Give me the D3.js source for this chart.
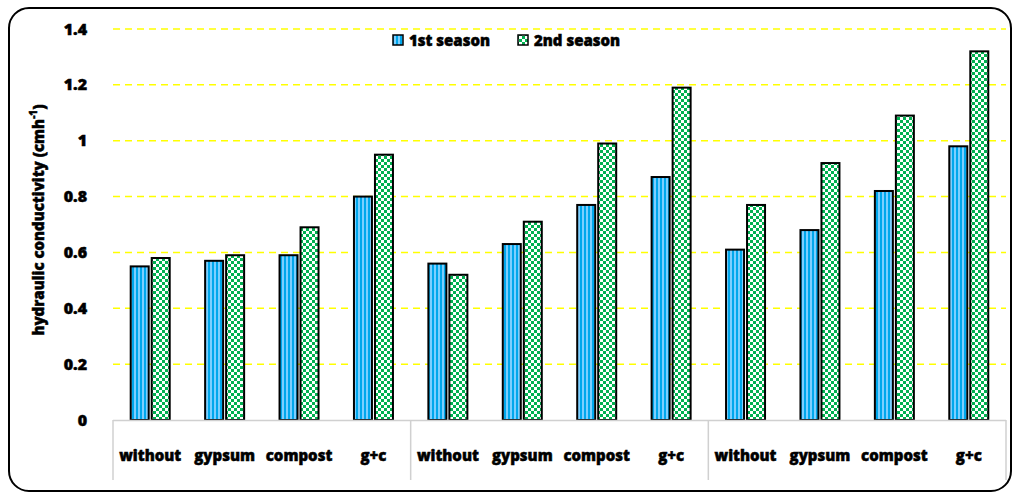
<!DOCTYPE html>
<html>
<head>
<meta charset="utf-8">
<script src="https://cdn.jsdelivr.net/npm/d3@7"></script>
<style>
  html, body { margin: 0; padding: 0; background: #fff; }
  svg { display: block; }
  text { font-family: "Open Sans", "Liberation Sans", Arial, sans-serif; font-weight: 800; fill: #000; stroke: #000; stroke-width: 0.5px; }
</style>
</head>
<body>
<svg id="chart" width="1018" height="498"></svg>
<script>
// Treatments repeated across three experiment groups
const categories = ["without", "gypsum", "compost", "g+c",
                    "without", "gypsum", "compost", "g+c",
                    "without", "gypsum", "compost", "g+c"];
const season1 = [0.55, 0.57, 0.59, 0.80, 0.56, 0.63, 0.77, 0.87, 0.61, 0.68, 0.82, 0.98];
const season2 = [0.58, 0.59, 0.69, 0.95, 0.52, 0.71, 0.99, 1.19, 0.77, 0.92, 1.09, 1.32];
const seriesNames = ["1st season", "2nd season"];
const yTicks = [0, 0.2, 0.4, 0.6, 0.8, 1, 1.2, 1.4];
const groupSize = 4;

const svg = d3.select("#chart");
const margin = { left: 113, top: 29 };
const plotRight = 1006, plotBottom = 420;

// Patterns for the two series
const defs = svg.append("defs");
const pBlue = defs.append("pattern").attr("id", "stripes")
  .attr("patternUnits", "userSpaceOnUse").attr("width", 4).attr("height", 4);
pBlue.append("rect").attr("width", 4).attr("height", 4).attr("fill", "#7ccfff");
pBlue.append("rect").attr("width", 2).attr("height", 4).attr("fill", "#00a7ec");

const pGreen = defs.append("pattern").attr("id", "checks")
  .attr("patternUnits", "userSpaceOnUse").attr("width", 6).attr("height", 6);
pGreen.append("rect").attr("width", 6).attr("height", 6).attr("fill", "#ffffff");
pGreen.append("rect").attr("width", 3).attr("height", 3).attr("fill", "#00b050");
pGreen.append("rect").attr("x", 3).attr("y", 3).attr("width", 3).attr("height", 3).attr("fill", "#00b050");

// Rounded outer frame
svg.append("rect").attr("x", 9).attr("y", 8).attr("width", 1002).attr("height", 483)
  .attr("rx", 20).attr("ry", 20).attr("fill", "#fff").attr("stroke", "#000").attr("stroke-width", 2);

const x = d3.scaleBand().domain(d3.range(categories.length))
  .range([margin.left, plotRight]).paddingInner(0).paddingOuter(0);
const y = d3.scaleLinear().domain([0, 1.4]).range([plotBottom, margin.top]);

// Dashed yellow gridlines
svg.append("g").selectAll("line").data(yTicks.filter(d => d > 0)).join("line")
  .attr("x1", margin.left).attr("x2", plotRight)
  .attr("y1", d => y(d)).attr("y2", d => y(d))
  .attr("stroke", "#ffff00").attr("stroke-width", 1.5).attr("stroke-dasharray", "7,5");

// Y tick labels
svg.append("g").selectAll("text").data(yTicks).join("text")
  .attr("x", 87).attr("y", d => y(d)).attr("dy", "0.35em")
  .attr("text-anchor", "end").attr("font-size", 16)
  .text(d => d3.format("")(d));

// Y title
svg.append("text")
  .attr("transform", "translate(44,220) rotate(-90)")
  .attr("text-anchor", "middle").attr("font-size", 15)
  .html('hydraulic conductivity (cmh<tspan baseline-shift="super" font-size="10">-1</tspan>)');

// Bars
const barW = 18, gap = 3;
const bars = svg.append("g");
categories.forEach((c, i) => {
  const cx = x(i) + x.bandwidth() / 2;
  [season1[i], season2[i]].forEach((v, s) => {
    const bx = s === 0 ? cx - gap / 2 - barW : cx + gap / 2;
    bars.append("rect")
      .attr("x", bx).attr("y", y(v))
      .attr("width", barW).attr("height", y(0) - y(v))
      .attr("fill", s === 0 ? "url(#stripes)" : "url(#checks)")
      .attr("stroke", "#000").attr("stroke-width", 2);
  });
});

// Category axis box
const axisBottom = 480;
svg.append("line").attr("x1", margin.left).attr("x2", plotRight)
  .attr("y1", plotBottom + 0.5).attr("y2", plotBottom + 0.5)
  .attr("stroke", "#d0d0d0").attr("stroke-width", 1.5);
const seps = d3.range(0, categories.length + 1, groupSize);
svg.append("g").selectAll("line").data(seps).join("line")
  .attr("x1", d => d === categories.length ? plotRight : x(d))
  .attr("x2", d => d === categories.length ? plotRight : x(d))
  .attr("y1", plotBottom).attr("y2", axisBottom)
  .attr("stroke", "#d0d0d0").attr("stroke-width", 1.5);

svg.append("g").selectAll("text").data(categories).join("text")
  .attr("x", (d, i) => x(i) + x.bandwidth() / 2).attr("y", 456).attr("dy", "0.35em")
  .attr("text-anchor", "middle").attr("font-size", 15)
  .text(d => d);

// Legend
const legend = svg.append("g");
const legendItems = [
  { name: seriesNames[0], fill: "url(#stripes)", x: 393 },
  { name: seriesNames[1], fill: "url(#checks)", x: 518 }
];
legendItems.forEach(it => {
  legend.append("rect").attr("x", it.x).attr("y", 35).attr("width", 10).attr("height", 10)
    .attr("fill", it.fill).attr("stroke", "#000").attr("stroke-width", 1.5);
  legend.append("text").attr("x", it.x + 16).attr("y", 41).attr("dy", "0.35em")
    .attr("font-size", 15).text(it.name);
});
</script>
</body>
</html>
